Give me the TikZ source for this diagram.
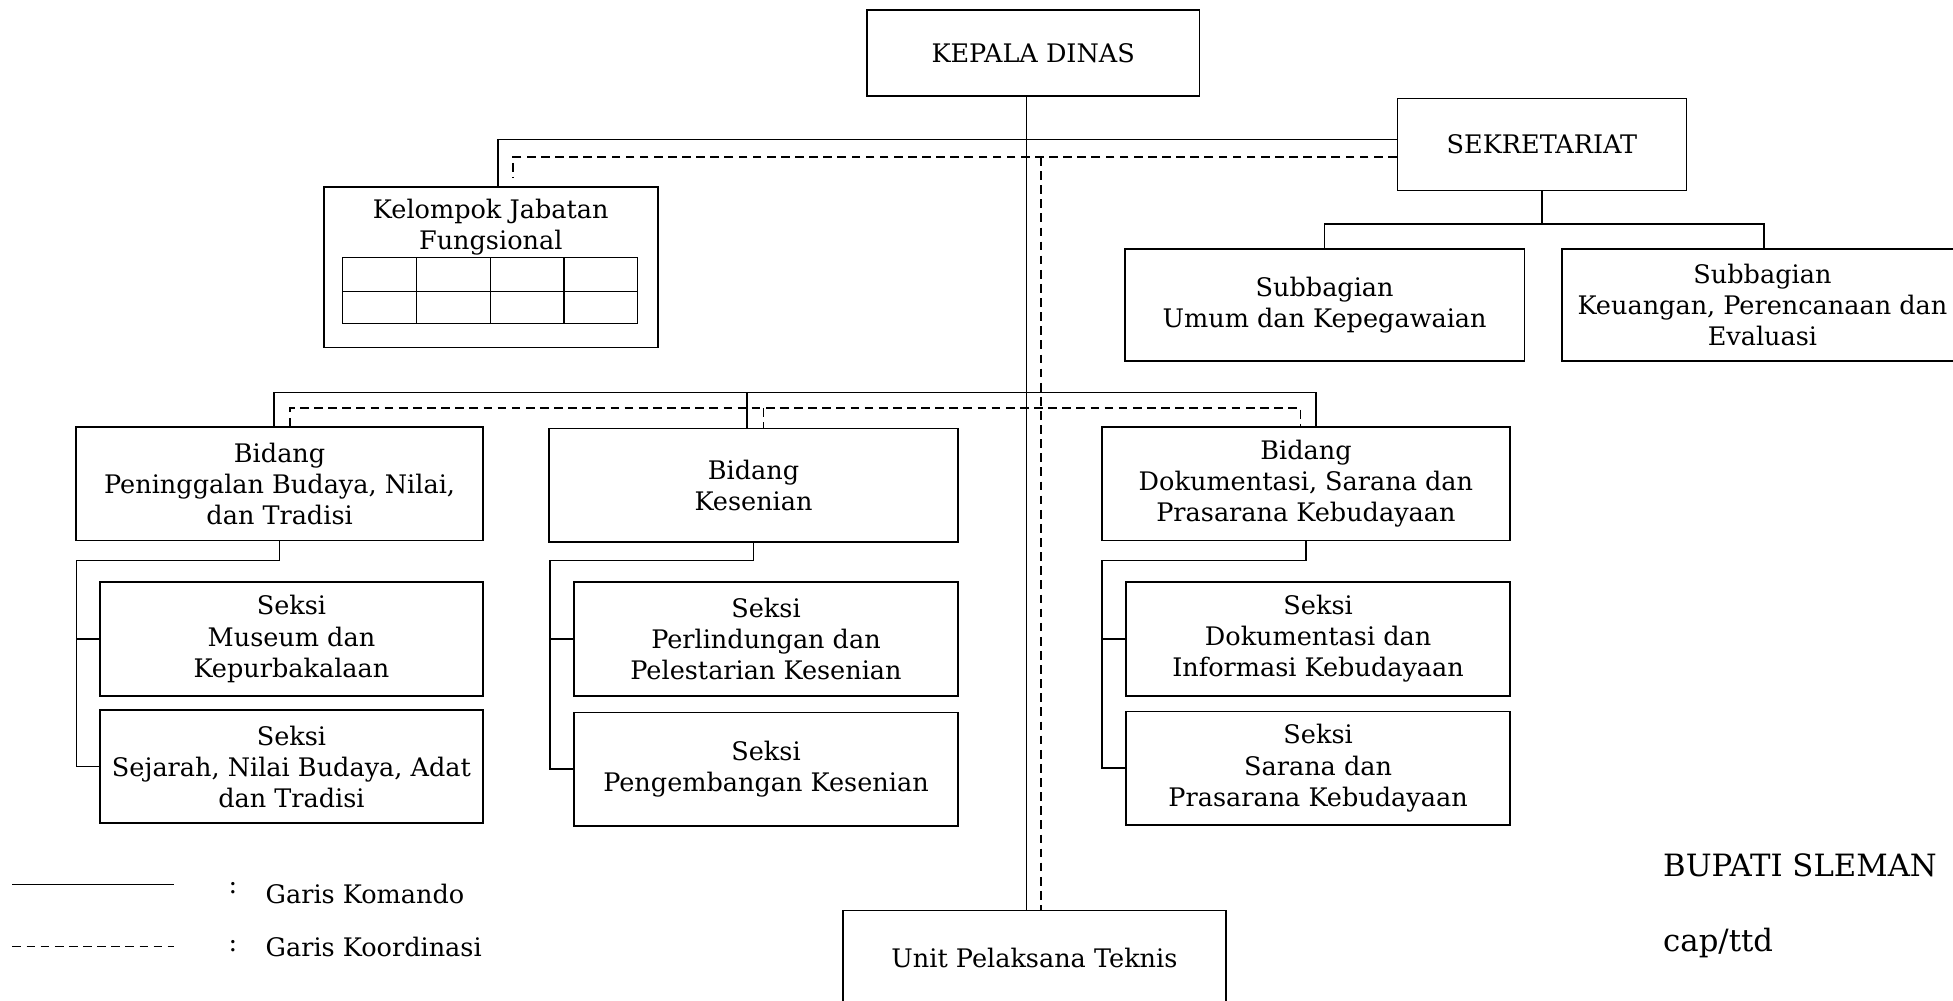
\documentclass[tikz,border=0pt]{standalone}
\usepackage{fontspec}
\setmainfont{DejaVu Serif}
\begin{document}
\begin{tikzpicture}[x=0.6pt,y=-0.6pt,
  box/.style={draw,line width=0.85pt,align=center,inner sep=0pt,
    font=\fontsize{12.3}{15}\selectfont},
  txt/.style={align=center,inner sep=0pt,font=\fontsize{12.3}{15}\selectfont},
  conn/.style={line width=0.8pt},
  koord/.style={line width=0.8pt,dash pattern=on 4.2pt off 2.6pt}]
\useasboundingbox (0,0) rectangle (1568,803);
% boxes
\node[box,minimum width=160.2pt,minimum height=41.4pt] (kd) at (829.5,42.5) {KEPALA DINAS};
\node[box,minimum width=139.2pt,minimum height=44.4pt] (sek) at (1238,116) {SEKRETARIAT};
\node[box,minimum width=192.6pt,minimum height=54pt] (sub1) at (1063.5,245) {Subbagian\\Umum dan Kepegawaian};
\node[box,minimum width=194.4pt,minimum height=54pt] (sub2) at (1416,245) {};
\node[txt] (sub2t) at (1415,245) {Subbagian\\Keuangan, Perencanaan dan\\Evaluasi};
\node[box,minimum width=160.8pt,minimum height=77.4pt] (kjf) at (394,214.5) {};
\node[txt] (kjft) at (394,182.5) {Kelompok Jabatan\\Fungsional};
\draw[line width=0.6pt] (275,207) rectangle (512,260);
\draw[line width=0.6pt] (275,234) -- (512,234);
\foreach \cx in {334.25,393.5,452.75} \draw[line width=0.6pt] (\cx,207) -- (\cx,260);
\node[box,minimum width=196.2pt,minimum height=54.6pt] (bid1) at (224.5,388.5) {Bidang\\Peninggalan Budaya, Nilai,\\dan Tradisi};
\node[box,minimum width=196.8pt,minimum height=54.6pt] (bid2) at (605,389.5) {Bidang\\Kesenian};
\node[box,minimum width=196.8pt,minimum height=54.6pt] (bid3) at (1048.5,388.5) {Bidang\\Dokumentasi, Sarana dan\\Prasarana Kebudayaan};
\node[box,minimum width=184.8pt,minimum height=54.6pt] (sk11) at (234,513) {Seksi\\Museum dan\\Kepurbakalaan};
\node[box,minimum width=184.8pt,minimum height=54.6pt] (sk12) at (234,615.5) {Seksi\\Sejarah, Nilai Budaya, Adat\\dan Tradisi};
\node[box,minimum width=184.8pt,minimum height=54.6pt] (sk21) at (615,513) {Seksi\\Perlindungan dan\\Pelestarian Kesenian};
\node[box,minimum width=184.8pt,minimum height=54.6pt] (sk22) at (615,617.5) {Seksi\\Pengembangan Kesenian};
\node[box,minimum width=185.1pt,minimum height=54.6pt] (sk31) at (1058.25,513) {Seksi\\Dokumentasi dan\\Informasi Kebudayaan};
\node[box,minimum width=185.1pt,minimum height=54.6pt] (sk32) at (1058.25,616.75) {Seksi\\Sarana dan\\Prasarana Kebudayaan};
\node[box,minimum width=184.2pt,minimum height=45.6pt] (upt) at (830.5,769) {Unit Pelaksana Teknis};
% helper coordinates
\coordinate (mx) at (824,0);
\coordinate (dx) at (836,126);
\coordinate (yK) at (0,112);
\coordinate (yD) at (0,126);
\coordinate (xK) at (400,0);
\coordinate (xD) at (412,0);
\coordinate (kjfd) at (412,143);
\coordinate (ySb) at (0,180);
\coordinate (t1) at (220,315);
\coordinate (t2) at (599.6,315);
\coordinate (t3) at (1056.6,315);
\coordinate (d1) at (233,327.5);
\coordinate (d2) at (613,327.5);
\coordinate (d3) at (1044,327.5);
\coordinate (b1) at (61.5,450);
\coordinate (b2) at (441.4,450);
\coordinate (b3) at (884.6,450);
% command lines
\draw[conn] (kd.south -| mx) -- (upt.north -| mx);
\draw[conn] (sek.west |- yK) -| (kjf.north -| xK);
\draw[conn] (sek.south) -- (sek.south |- ySb);
\draw[conn] (sub1.north) -- (sub1.north |- ySb) -- (sub2.north |- ySb) -- (sub2.north);
\draw[conn] (bid1.north -| t1) -- (t1) -- (t3) -- (bid3.north -| t3);
\draw[conn] (t2) -- (bid2.north -| t2);
\draw[conn] (bid1.south) |- (b1) -- (b1 |- sk12.west) -- (sk12.west);
\draw[conn] (b1 |- sk11.west) -- (sk11.west);
\draw[conn] (bid2.south) |- (b2) -- (b2 |- sk22.west) -- (sk22.west);
\draw[conn] (b2 |- sk21.west) -- (sk21.west);
\draw[conn] (bid3.south) |- (b3) -- (b3 |- sk32.west) -- (sk32.west);
\draw[conn] (b3 |- sk31.west) -- (sk31.west);
% coordination lines
\draw[koord] (sek.west |- yD) -| (kjfd);
\draw[koord] (dx) -- (upt.north -| dx);
\draw[koord] (bid1.north -| d1) -- (d1) -- (d3) -- (bid3.north -| d3);
\draw[koord] (d2) -- (bid2.north -| d2);
% legend
\coordinate (l1a) at (10,710);
\coordinate (l1b) at (140,710);
\coordinate (l2a) at (10,760);
\coordinate (l2b) at (140,760);
\draw[conn] (l1a) -- (l1b);
\draw[koord] (l2a) -- (l2b);
\node[txt] (c1) at (187,713) {:};
\node[txt] (c2) at (187,760) {:};
\node[txt,anchor=west] (lg1) at (213,718) {Garis Komando};
\node[txt,anchor=west] (lg2) at (213,760) {Garis Koordinasi};
% signature
\node[txt,anchor=west,font=\fontsize{14.8}{17}\selectfont] (bup) at (1335,695) {BUPATI SLEMAN};
\node[txt,anchor=west,font=\fontsize{14.8}{17}\selectfont] (cap) at (1335,757) {cap/ttd};
\end{tikzpicture}
\end{document}
